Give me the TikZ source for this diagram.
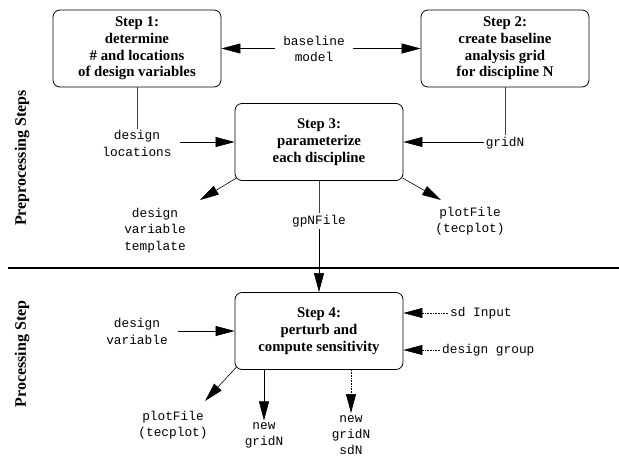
\documentclass[tikz,border=0pt]{standalone}
\usepackage{fontspec}
\setmainfont{Liberation Serif}
\setmonofont{Liberation Mono}
\usetikzlibrary{arrows.meta}
\begin{document}
\begin{tikzpicture}[x=1pt,y=-1pt,
  stepbox/.style={draw, line width=0.8pt, rounded corners=7pt, minimum width=168pt, minimum height=77pt, align=center, font=\bfseries\fontsize{14.8}{16.7}\selectfont, inner sep=0pt},
  lbl/.style={align=center, font=\ttfamily\fontsize{12.8}{16.2}\selectfont, inner sep=2pt},
  arr/.style={-{Triangle[length=19pt,width=10pt]}, line width=0.6pt},
  ln/.style={line width=0.6pt, draw=black!75},
  dotarr/.style={-{Triangle[length=19pt,width=10pt]}, line width=0.6pt, densely dotted},
  side/.style={rotate=90, font=\bfseries\fontsize{16}{18}\selectfont}
]
\useasboundingbox (0,0) rectangle (619,456);

\node[stepbox] (s1) at (137,48.5) {Step 1:\\determine\\\# and locations\\of design variables};
\node[stepbox] (s2) at (505,48.5) {Step 2:\\create baseline\\analysis grid\\for discipline N};
\node[stepbox] (s3) at (319,142) {Step 3:\\parameterize\\each discipline};
\node[stepbox] (s4) at (319,331) {Step 4:\\perturb and\\compute sensitivity};

\node[side] (pre) at (22,158) {Preprocessing Steps};
\node[side] (proc) at (22,354) {Processing Step};

\node[lbl] (base) at (314,49) {baseline\\model};
\node[lbl] (dl) at (137,143.5) {design\\locations};
\node[lbl] (grid) at (505,143) {gridN};
\node[lbl] (dvt) at (155,230.5) {design\\variable\\template};
\node[lbl] (pf1) at (470,221) {plotFile\\(tecplot)};
\node[lbl] (gp) at (319,221) {gpNFile};
\node[lbl] (dv) at (137,331.5) {design\\variable};
\node[lbl, anchor=west] (sdin) at (448,313) {sd Input};
\node[lbl, anchor=west] (dg) at (440,350) {design group};
\node[lbl] (pf2) at (173,425) {plotFile\\(tecplot)};
\node[lbl] (ng) at (264,435.5) {new\\gridN};
\node[lbl] (nsd) at (351,435) {new\\gridN\\sdN};

\coordinate (t1) at (200,200);
\coordinate (t2) at (441,200);
\coordinate (t3) at (205,401);

\draw[arr] (base.west |- s1.east) ++(-6,0) -- (s1.east);
\draw[arr] (base.east |- s2.west) ++(6,0) -- (s2.west);
\draw[ln] (s1.south) -- (dl.north);
\draw[arr] (dl.east |- s3.west) ++(6,0) -- (s3.west);
\draw[ln] (s2.south) -- (grid.north);
\draw[arr] (grid.west |- s3.east) -- (s3.east);
\draw[arr] ([shift={(2,-3)}]s3.south west) -- (t1);
\draw[arr] ([shift={(-1,-3)}]s3.south east) -- (t2);
\draw[ln] (s3.south) -- (gp.north);
\draw[arr] (gp.south) -- (s4.north);

\draw[line width=1.6pt] (8,268) -- (619,268);

\draw[arr] (dv.east |- s4.west) ++(8,0) -- (s4.west);
\draw[dotarr] (sdin.west) -- (sdin.west -| s4.east);
\draw[dotarr] (dg.west) -- (dg.west -| s4.east);
\draw[arr] ([shift={(2,-3)}]s4.south west) -- (t3);
\draw[arr] (ng.north |- s4.south) -- (ng.north);
\draw[dotarr] (nsd.north |- s4.south) -- (nsd.north);
\end{tikzpicture}
\end{document}
